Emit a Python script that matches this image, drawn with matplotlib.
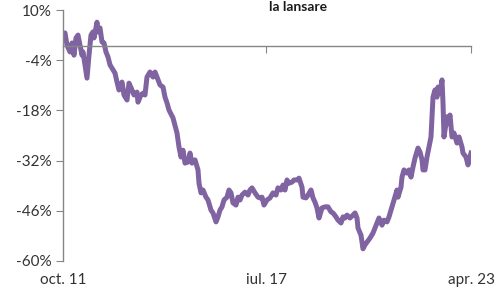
import numpy as np
import matplotlib
matplotlib.use('Agg')
import matplotlib.pyplot as plt
import matplotlib.transforms as mtransforms

plt.rcParams['font.family'] = ['Lato', 'DejaVu Sans']

# zile de la lansare (pozitie pe axa) si randamentul cumulat (%)
zile = [0, 2, 4, 7, 9, 11, 13, 15, 17, 19, 20, 23, 24, 26, 28, 30, 31, 34, 35, 37,
        39, 41, 43, 45, 47, 50, 52, 54, 56, 59, 61, 64, 66, 69, 71, 74, 75, 78, 80,
        82, 84, 87, 90, 92, 94, 97, 100, 102, 104, 106,
        110, 114, 116, 118, 120, 122, 125, 127, 129, 132, 135, 136, 138, 140, 143,
        145, 148, 150, 153, 155, 157, 159, 161, 164, 166, 168, 170, 173, 175, 177,
        179, 182, 185, 187, 189, 192, 195, 197, 199, 201, 204,
        207, 210, 213, 215, 218, 220, 222, 224, 226, 229, 231, 234, 236, 239, 240,
        243, 245, 248, 250, 252, 254, 256, 259, 262, 265, 268, 270, 273, 275, 278,
        280, 282, 284, 287, 290, 292, 294, 295, 298, 300, 302,
        307, 310, 314, 316, 319, 321, 324, 326, 329, 331, 334, 335, 338, 339, 341,
        344, 346, 348, 350, 352, 355, 357, 359, 360, 362, 364, 366, 368, 369, 370,
        372, 374, 375, 377, 379, 380, 381, 384, 385, 387, 389, 391, 394, 396, 399,
        400, 403, 405, 407, 408]
perf = [2.5, 3.6, 0.2, -1.7, 0.8, -2.6, 2.2, 3.0, 0.2, -2.6, -1.7, -7.3, -9.0,
        -2.6, 3.0, 3.9, 2.2, 6.6, 3.9, 5.0, 1.1, 0.8, -1.7, -3.1, -5.3, -6.7, -7.6,
        -10.1, -12.3, -10.1, -13.7, -15.1, -10.4, -12.3, -13.7, -12.9, -15.7, -13.7,
        -13.2, -13.7, -8.7, -7.3, -8.7, -7.3, -8.7, -10.9, -11.5, -14.3, -15.9, -17.9,
        -20.1, -24.3, -28.2, -31.0, -29.1, -32.7, -32.4, -29.9, -32.7, -31.8, -34.6,
        -38.3, -41.0, -40.2, -42.2, -43.0, -45.8, -46.6, -49.1, -47.7, -45.8, -44.9,
        -43.0, -42.2, -40.2, -41.0, -43.8, -44.4, -42.2, -43.0, -41.6, -40.8, -41.6,
        -40.2, -39.6, -41.0, -42.2, -42.4, -42.2, -44.4, -43.0,
        -42.4, -41.0, -41.6, -39.6, -40.2, -38.8, -40.2, -37.4, -38.3, -38.0, -37.4,
        -37.4, -36.9, -39.4, -42.2, -42.4, -41.6, -40.2, -42.4, -43.6, -45.2, -48.0,
        -45.2, -44.9, -44.9, -46.3, -46.6, -47.7, -48.6, -49.4, -47.7, -48.0, -47.2,
        -48.0, -47.2, -46.6, -48.0, -50.8, -52.8, -56.6, -55.5,
        -53.6, -52.2, -49.4, -48.0, -50.0, -48.6, -49.1, -47.7, -44.9, -43.0, -40.2,
        -42.2, -39.4, -36.6, -34.6, -35.5, -34.6, -36.6, -33.8, -31.3, -28.5, -29.6,
        -31.8, -34.6, -34.6, -31.0, -28.2, -25.4, -19.8, -14.3, -12.3, -14.3, -11.5,
        -13.2, -9.5, -15.9, -25.4, -19.8, -21.5, -19.3, -25.4, -24.3, -27.1, -25.4,
        -28.2, -29.9, -31.0, -33.2, -31.0, -29.9]

etichete_x = ['oct. 11', 'iul. 17', 'apr. 23']
pozitii_x = [0, 203, 408]
ticks_y = [10, -4, -18, -32, -46, -60]

fig = plt.figure(figsize=(4.97, 2.88), dpi=100)
ax = fig.add_axes([63 / 497, 1 - 261 / 288, (471 - 63) / 497, (261 - 10) / 288])

ax.plot(zile, perf, color='#8064A2', linewidth=3.6, solid_joinstyle='round')

ax.set_xlim(0, 408)
ax.set_ylim(-60, 10)
ax.set_yticks(ticks_y)
ax.set_yticklabels([f'{t}%' for t in ticks_y])

ax.spines['top'].set_visible(False)
ax.spines['right'].set_visible(False)
ax.spines['bottom'].set_position(('data', 0))
for s in ['left', 'bottom']:
    ax.spines[s].set_color('#868686')
    ax.spines[s].set_linewidth(1.0)

ax.set_xticks(pozitii_x)
ax.tick_params(axis='x', direction='out', length=5, color='#868686', labelbottom=False)
ax.tick_params(axis='y', direction='out', length=5, color='#868686', labelsize=11,
               labelcolor='#333333', pad=3)

trans = mtransforms.blended_transform_factory(ax.transData, ax.transAxes)
for p, e in zip(pozitii_x, etichete_x):
    ax.text(p, -0.075, e, transform=trans, ha='center', va='center',
            fontsize=11, color='#333333')

# titlul (a doua linie), lipit de marginea de sus
fig.text(298 / 497, 1 - 1 / 288, 'la lansare', ha='center', va='top',
         fontsize=10, fontweight='bold', color='#1a1a1a')

fig.savefig('out.png', dpi=100)
